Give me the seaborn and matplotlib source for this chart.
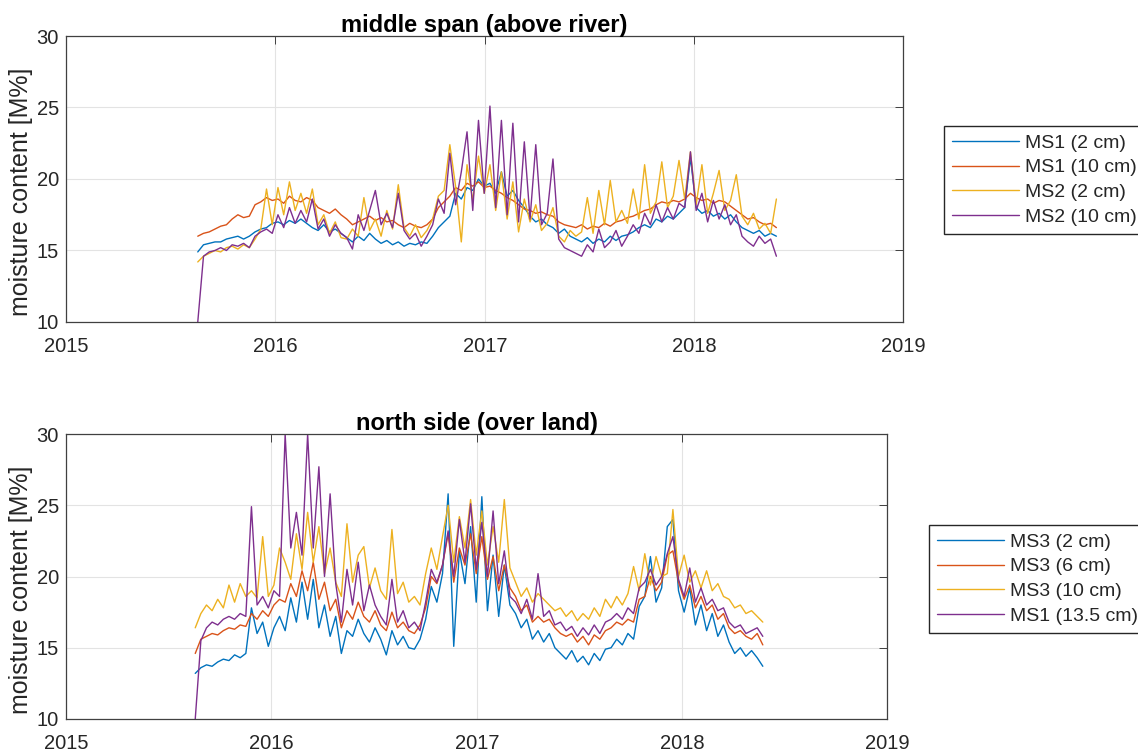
import matplotlib
matplotlib.use('Agg')
import matplotlib.pyplot as plt
import matplotlib.dates as mdates
import seaborn as sns
import pandas as pd
import numpy as np

# sampling grid of the sensor readings (one value per 10 days)
dates = pd.date_range('2015-08-19', periods=102, freq='10D')

# middle span (above river)
ms1_2cm = [14.9,
    15.4, 15.5, 15.6, 15.6, 15.8, 15.9, 16.0, 15.8, 16.0,
    16.3, 16.5, 16.6, 16.9,
    17.0, 16.8, 17.1, 16.9, 17.2, 16.9,
    16.6, 16.4, 16.8, 16.3, 16.5, 16.2,
    15.9, 15.6, 16.0, 15.7, 16.2, 15.8, 15.5, 15.7, 15.4,
    15.6, 15.3, 15.5, 15.4, 15.6, 15.5, 16.0,
    16.6, 17.0, 17.4,
    19.0, 18.6, 19.4, 19.2, 20.0, 19.5,
    19.7, 19.0, 20.5, 18.8, 19.2, 18.5, 18.0,
    17.4, 17.0, 17.2, 16.8,
    16.6, 16.2, 16.5, 16.0,
    15.8, 15.6, 15.9, 15.5, 15.8, 15.6, 16.0, 15.7, 16.0, 16.1,
    16.3, 16.6, 16.8, 16.6, 17.2, 17.0, 17.4, 17.2, 17.6, 18.0,
    21.5,
    18.0, 17.6, 17.8, 17.4, 17.6, 17.2, 17.5, 17.0,
    16.6, 16.4, 16.2, 16.4, 16.0, 16.2, 16.0]
ms1_10cm = [16.0,
    16.2, 16.3, 16.5, 16.7, 16.8, 17.2, 17.5, 17.3, 17.4,
    18.2, 18.4, 18.7, 18.5,
    18.6, 18.3, 18.8, 18.5, 18.4, 18.7,
    18.5, 18.0, 17.8, 17.6, 17.9, 17.5,
    17.2, 16.8, 17.0, 17.2, 17.4, 17.1, 17.3, 17.0, 17.1,
    16.8, 16.6, 16.9, 16.7, 16.6, 16.8, 17.2,
    18.0, 18.4, 18.8,
    19.4, 19.2, 19.7, 19.5, 19.8, 19.4,
    19.5, 19.2, 19.0, 18.7, 18.5, 18.2, 17.9,
    17.8, 17.6, 17.7, 17.5,
    17.4, 17.0, 16.8, 16.7,
    16.6, 16.8, 16.5, 16.7, 16.6, 16.9, 16.7, 17.0, 17.1, 17.3,
    17.4, 17.6, 17.8, 17.9, 18.2, 18.4, 18.3, 18.5, 18.4, 18.6,
    19.0,
    18.7, 18.5, 18.6, 18.3, 18.5, 18.4, 18.1, 17.8,
    17.5, 17.2, 17.3, 17.0, 16.8, 16.9, 16.6]
ms2_2cm = [14.2,
    14.6, 14.8, 15.0, 14.9, 15.2, 15.3, 15.1, 15.4, 15.2,
    15.8, 16.5, 19.3, 16.8,
    19.4, 17.5, 19.8, 17.8, 19.0, 17.6,
    19.3, 16.8, 17.5, 16.2, 17.0, 15.9,
    15.8, 16.5, 16.0, 18.7, 16.4, 17.2, 16.0, 17.8, 16.5,
    19.6, 16.6, 16.0, 16.8, 15.9, 16.4, 17.2,
    18.8, 19.2, 22.4,
    19.5, 15.6, 21.0, 18.5, 21.6, 19.0,
    21.0, 17.8, 20.5, 17.2, 19.8, 16.3, 18.6,
    17.0, 18.2, 16.4, 16.9,
    18.0, 16.0, 15.6, 16.4,
    16.0, 16.3, 18.7, 16.2, 19.2, 16.8, 19.9, 17.0, 17.8, 16.9,
    19.3, 17.2, 21.0, 17.6, 18.4, 21.2, 18.0, 18.8, 21.3, 18.6,
    21.9,
    18.2, 21.0, 17.6, 19.0, 20.6, 17.8, 18.5, 20.3,
    17.4, 16.8, 17.6, 16.5, 16.9, 16.2, 18.6]
ms2_10cm = [10.0,
    14.6, 14.9, 15.0, 15.2, 15.0, 15.4, 15.3, 15.5, 15.2,
    16.0, 16.3, 16.5, 16.2,
    17.5, 16.6, 18.0, 16.9, 17.8, 17.0,
    18.6, 16.5, 17.2, 16.0, 16.8, 16.2,
    15.9, 15.1, 17.5, 16.4, 17.8, 19.2, 16.8, 17.6, 16.6,
    19.0, 16.4, 15.8, 16.2, 15.3, 16.0, 16.8,
    18.6, 17.6, 21.8,
    18.2, 20.5, 23.3, 17.8, 24.1, 19.0,
    25.1, 18.0, 24.1, 17.5, 23.9, 17.0, 22.6,
    17.2, 22.4, 16.8, 17.6,
    21.4, 15.8, 15.2, 15.0,
    14.8, 14.6, 15.4, 14.9, 16.5, 15.2, 15.6, 16.4, 15.3, 16.0,
    16.8, 16.2, 17.6, 16.8, 18.2, 17.0, 18.0, 17.2, 18.3, 18.0,
    21.9,
    17.8, 19.0, 17.0, 18.5, 17.2, 18.2, 16.8, 17.5,
    16.0, 15.6, 15.3, 16.0, 15.5, 15.8, 14.6]

# north side (over land)
ms3_2cm = [13.2,
    13.6, 13.8, 13.7, 14.0, 14.2, 14.1, 14.5, 14.3, 14.6,
    17.8, 16.0, 16.8, 15.1,
    16.4, 17.2, 16.2, 18.5, 16.8, 19.6,
    17.0, 19.8, 16.4, 18.0, 15.8, 17.2,
    14.6, 16.2, 15.8, 17.0, 16.0, 15.4, 16.4, 15.6, 14.5,
    16.2, 15.2, 15.8, 15.0, 14.9, 15.6, 17.0,
    19.3, 18.2, 20.2,
    25.8, 15.1, 21.8, 19.5, 23.5, 18.2,
    25.6, 17.6, 21.5, 17.2, 20.8, 18.0, 17.4,
    16.4, 17.0, 15.6, 16.2,
    15.4, 16.0, 15.0, 14.6,
    14.2, 14.8, 14.0, 14.4, 13.8, 14.6, 14.1, 14.9, 15.0, 15.6,
    15.2, 16.0, 15.6, 17.9, 18.6, 21.4, 18.2, 19.2, 23.5, 24.0,
    19.0,
    17.5, 19.2, 16.6, 18.0, 16.2, 17.4, 15.8, 16.6,
    15.4, 14.6, 15.0, 14.4, 14.8, 14.3, 13.7]
ms3_6cm = [14.6,
    15.6, 15.8, 16.0, 15.9, 16.2, 16.4, 16.3, 16.6, 16.5,
    17.4, 17.0, 17.6, 17.2,
    18.0, 18.4, 18.2, 19.5, 18.6, 20.4,
    19.0, 21.0, 18.4, 19.6, 17.6, 18.4,
    16.4, 17.6, 17.0, 18.2, 17.2, 16.8, 17.6, 16.6, 16.2,
    17.5, 16.4, 16.8, 16.2, 16.0, 16.6, 17.8,
    20.0, 19.5, 20.8,
    23.0, 19.6, 22.0, 20.8, 23.0, 20.2,
    22.8, 19.8, 21.4, 19.0, 20.8, 19.2, 18.6,
    17.6, 18.0, 16.8, 17.2,
    16.8, 17.0, 16.4, 16.0,
    15.8, 16.0, 15.4, 15.8, 15.2, 15.9, 15.6, 16.2, 16.4, 16.8,
    16.6, 17.0, 16.8, 18.4, 18.6, 20.0, 19.0, 19.6, 21.5, 21.8,
    19.6,
    18.4, 19.4, 17.8, 18.6, 17.6, 18.0, 17.0, 17.4,
    16.4, 16.0, 16.2, 15.8, 15.6, 16.0, 15.2]
ms3_10cm = [16.4,
    17.4, 18.0, 17.6, 18.4, 17.8, 19.4, 18.2, 19.5, 18.6,
    19.0, 18.5, 22.8, 18.6,
    19.4, 22.0, 21.0, 19.8, 23.0, 20.5,
    24.5, 21.0, 23.5, 20.2, 22.0, 19.6,
    18.6, 23.7, 19.6, 21.5, 22.1, 19.2, 20.6, 19.0, 18.4,
    23.3, 18.8, 19.6, 18.2, 18.6, 18.0, 20.2,
    22.0, 20.5, 22.8,
    25.0, 21.0, 24.2, 22.0, 25.4, 21.5,
    24.6, 20.8, 23.5, 21.0, 25.4, 20.6, 19.6,
    18.6, 19.2, 18.2, 18.8,
    18.4, 18.0, 17.6, 17.8,
    17.2, 17.6, 16.9, 17.4, 17.0, 17.8, 17.2, 18.4, 17.8, 18.6,
    18.0, 18.8, 20.7, 19.0, 21.6, 19.4, 21.4, 20.0, 20.2, 24.7,
    20.0,
    21.5, 19.6, 20.4, 19.2, 20.4, 19.0, 19.5, 18.6,
    18.4, 17.8, 18.0, 17.4, 17.6, 17.2, 16.8]
ms1_135cm = [10.0,
    15.5, 16.4, 16.8, 16.6, 17.0, 17.2, 17.0, 17.4, 17.2,
    24.9, 18.0, 18.6, 17.8,
    19.0, 18.6, 30.0, 22.0, 24.5, 21.5,
    30.0, 22.0, 27.7, 20.0, 25.8, 19.5,
    16.8, 20.5, 18.0, 21.0, 17.6, 19.4, 18.0, 17.2, 16.6,
    19.8, 16.8, 17.6, 16.4, 16.8, 16.2, 18.2,
    20.5, 19.6, 20.8,
    23.2, 20.0, 24.0, 21.0, 25.1, 20.5,
    23.8, 20.0, 24.6, 19.5, 21.8, 18.6, 18.2,
    17.4, 18.4, 17.0, 20.2,
    17.2, 17.6, 16.6, 16.8,
    16.2, 16.5, 15.8, 16.4, 15.9, 16.6, 16.0, 16.8, 17.0, 17.4,
    17.0, 17.8, 17.4, 19.2, 19.6, 20.5, 19.4, 20.0, 21.6, 22.8,
    19.8,
    18.6, 20.6, 18.2, 19.2, 18.0, 18.4, 17.6, 17.8,
    16.8, 16.4, 16.6, 16.0, 16.2, 16.4, 15.8]

labels_top = ['MS1 (2 cm)', 'MS1 (10 cm)', 'MS2 (2 cm)', 'MS2 (10 cm)']
labels_bottom = ['MS3 (2 cm)', 'MS3 (6 cm)', 'MS3 (10 cm)', 'MS1 (13.5 cm)']
colors = ['#0072BD', '#D95319', '#EDB120', '#7E2F8E']

sns.set_style('white')
plt.rcParams['font.family'] = ['Liberation Sans', 'DejaVu Sans']

fig = plt.figure(figsize=(11.38, 7.51), dpi=100)
W, H = 1138, 751
ax1 = fig.add_axes([66 / W, 1 - 322 / H, (903 - 66) / W, (322 - 36) / H])
ax2 = fig.add_axes([66 / W, 1 - 719 / H, (887 - 66) / W, (719 - 434) / H])

panels = [
    (ax1, [ms1_2cm, ms1_10cm, ms2_2cm, ms2_10cm], labels_top,
     'middle span (above river)', (944, 126)),
    (ax2, [ms3_2cm, ms3_6cm, ms3_10cm, ms1_135cm], labels_bottom,
     'north side (over land)', (929, 525)),
]

for ax, series, labels, title, leg_pos in panels:
    for vals, lab, c in zip(series, labels, colors):
        sns.lineplot(x=dates, y=vals, ax=ax, color=c, linewidth=1.0, label=lab)
    ax.set_xlim(pd.Timestamp('2015-01-01'), pd.Timestamp('2019-01-01'))
    ax.set_ylim(10, 30)
    ax.set_yticks([10, 15, 20, 25, 30])
    ax.xaxis.set_major_locator(mdates.YearLocator())
    ax.xaxis.set_major_formatter(mdates.DateFormatter('%Y'))
    ax.grid(True, color='#E3E3E3', linewidth=0.8)
    ax.set_axisbelow(True)
    for sp in ax.spines.values():
        sp.set_visible(True)
        sp.set_color('#404040')
        sp.set_linewidth(0.9)
    ax.tick_params(direction='in', top=True, right=True, length=6, width=0.6,
                   colors='#262626', labelsize=14.5)
    ax.tick_params(axis='x', pad=10.5)
    ax.tick_params(axis='y', pad=5)
    ax.set_xlabel('')
    ax.set_ylabel('moisture content [M%]', fontsize=18, color='#262626')
    ax.yaxis.set_label_coords(-33 / (ax.get_position().width * W), 0.455)
    ax.set_title(title, fontsize=17, fontweight='bold', color='black', pad=3)
    ax.legend(loc='upper left', bbox_to_anchor=(leg_pos[0] / W, 1 - leg_pos[1] / H),
              bbox_transform=fig.transFigure, fontsize=14, frameon=True, fancybox=False,
              edgecolor='#262626', framealpha=1, handlelength=3.45, handletextpad=0.3,
              borderpad=0.42, labelspacing=0.36, borderaxespad=0)

fig.savefig('out.png', dpi=100)
